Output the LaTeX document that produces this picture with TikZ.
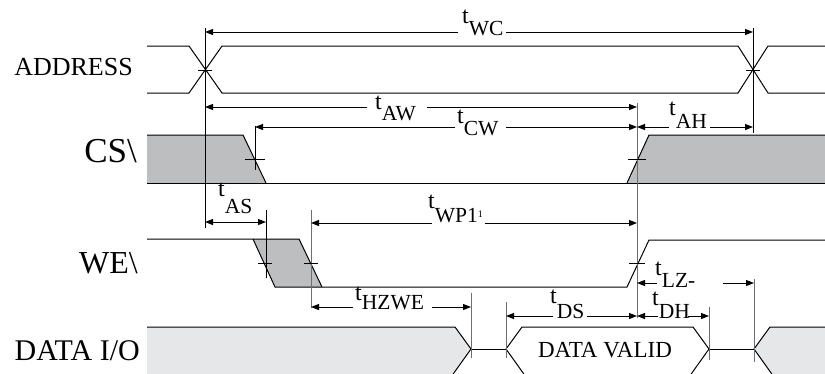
\documentclass[tikz,border=0pt]{standalone}
\usepackage{fontspec}
\setmainfont{Liberation Serif}
\usetikzlibrary{arrows.meta}
\definecolor{sigfill}{HTML}{BCBEC0}
\definecolor{datafill}{HTML}{E6E7E8}
\definecolor{vgray}{HTML}{6D6E71}
\newcommand{\tsub}[2]{t\raisebox{-#2pt}{\fontsize{21.5}{21.5}\selectfont #1}}
\tikzset{
  wave/.style={line width=1pt, black},
  vline/.style={line width=0.9pt, black},
  gline/.style={line width=0.9pt, vgray},
  tickmark/.style={line width=0.8pt, black},
  dimarr/.style={line width=1pt, -{Triangle[length=8pt,width=6pt]}},
  dimboth/.style={line width=1pt, {Triangle[length=8pt,width=6pt]}-{Triangle[length=8pt,width=6pt]}},
  tl/.style={anchor=base west, inner sep=0pt, font=\fontsize{24}{24}\selectfont},
  siglabel/.style={anchor=base east, inner sep=0pt}
}
\begin{document}
\begin{tikzpicture}[x=1pt,y=-1pt]
\useasboundingbox (0,0) rectangle (825,373);
\clip (0,0) rectangle (825,373);
% ---------- fills ----------
\fill[sigfill] (147,135) -- (243,135) -- (266,183) -- (147,183) -- cycle;
\fill[sigfill] (627,183) -- (649,135) -- (825,135) -- (825,183) -- cycle;
\fill[sigfill] (253,239) -- (299,239) -- (322,287) -- (275,287) -- cycle;
\fill[datafill] (147,327) -- (455,327) -- (471,349) -- (451,377) -- (147,377) -- cycle;
\fill[datafill] (754,349) -- (770,327) -- (825,327) -- (825,377) -- (774,377) -- cycle;
% ---------- ADDRESS ----------
\draw[wave] (147,46) -- (189,46) -- (222,93) -- (738,93) -- (768,46) -- (825,46);
\draw[wave] (147,93) -- (189,93) -- (222,46) -- (738,46) -- (768,93) -- (825,93);
% ---------- CS ----------
\draw[wave] (147,135) -- (243,135) -- (266,183);
\draw[wave] (147,183) -- (825,183);
\draw[wave] (627,183) -- (649,135) -- (825,135);
% ---------- WE ----------
\draw[wave] (147,239) -- (299,239) -- (322,287);
\draw[wave] (253,239) -- (275,287) -- (627,287) -- (649,240) -- (825,240);
% ---------- DATA I/O ----------
\draw[wave] (147,327) -- (455,327) -- (471,349) -- (451,377);
\draw[wave] (471,349) -- (506,349);
\draw[wave] (506,349) -- (522,327) -- (693,327) -- (709,349) -- (689,377);
\draw[wave] (506,349) -- (526,377);
\draw[wave] (709,349) -- (754,349);
\draw[wave] (774,377) -- (754,349) -- (770,327) -- (825,327);
% ---------- vertical reference lines ----------
\draw[vline] (205,28) -- (205,228);
\draw[vline] (753,28) -- (753,133);
\draw[vline] (255,126) -- (255,170);
\draw[vline] (266,210) -- (266,278);
\draw[gline] (637,103) -- (637,318);
\draw[gline] (311,210) -- (311,308);
\draw[gline] (471,293) -- (471,358);
\draw[gline] (506,302) -- (506,358);
\draw[gline] (709,307) -- (709,360);
\draw[gline] (754,279) -- (754,362);
% ---------- ticks ----------
\draw[tickmark] (198,70) -- (212,70);
\draw[tickmark] (746,70) -- (760,70);
\draw[tickmark] (245,159) -- (265,159);
\draw[tickmark] (628,159) -- (646,159);
\draw[tickmark] (258,263) -- (272,263);
\draw[tickmark] (304,263) -- (318,263);
\draw[tickmark] (629,263) -- (645,263);
% ---------- dimension arrows ----------
\draw[dimarr] (458,32) -- (205,32);  \draw[dimarr] (506,32) -- (753,32);
\draw[dimarr] (367,107) -- (205,107); \draw[dimarr] (427,107) -- (637,107);
\draw[dimarr] (455,127) -- (255,127); \draw[dimarr] (506,127) -- (637,127);
\draw[dimarr] (669,127) -- (637,127); \draw[dimarr] (710,127) -- (753,127);
\draw[dimboth] (205,222) -- (266,222);
\draw[dimarr] (432,223) -- (311,223); \draw[dimarr] (485,223) -- (637,223);
\draw[dimarr] (353,307) -- (311,307); \draw[dimarr] (432,307) -- (471,307);
\draw[dimarr] (553,316) -- (506,316); \draw[dimarr] (587,316) -- (637,316);
\draw[dimarr] (658,316) -- (637,316); \draw[dimarr] (688,316) -- (709,316);
\draw[dimarr] (657,283) -- (637,283); \draw[dimarr] (723,283) -- (754,283);
% ---------- timing labels ----------
\node[tl] (twc) at (462,23) {\tsub{WC}{12}};
\node[tl] (taw) at (375,109) {\tsub{AW}{11}};
\node[tl] (tcw) at (457,123) {\tsub{CW}{12}};
\node[tl] (tah) at (669,115) {\tsub{AH}{13}};
\node[tl] (tas) at (218,196) {\tsub{AS}{17}};
\node[tl] (twp) at (428,208) {\tsub{WP1\raisebox{5pt}{\fontsize{10}{10}\selectfont 1}}{14}};
\node[tl] (thz) at (355,300) {\tsub{HZWE}{9}};
\node[tl] (tds) at (550,303) {\tsub{DS}{15}};
\node[tl] (tdh) at (652,305) {\tsub{DH}{13}};
\node[tl] (tlz) at (655,275) {\tsub{LZ-}{12}};
% ---------- signal labels ----------
\node[siglabel, font=\fontsize{26}{26}\selectfont] (laddr) at (133,75) {ADDRESS};
\node[siglabel, font=\fontsize{35}{35}\selectfont] (lcs) at (137,162) {CS\textbackslash};
\node[siglabel, font=\fontsize{32}{32}\selectfont] (lwe) at (138,273) {WE\textbackslash};
\node[siglabel, font=\fontsize{30}{30}\selectfont] (ldata) at (140,360) {DATA I/O};
\node[anchor=base, inner sep=0pt, font=\fontsize{23}{23}\selectfont] (lvalid) at (605,357) {DATA VALID};
\end{tikzpicture}
\end{document}
